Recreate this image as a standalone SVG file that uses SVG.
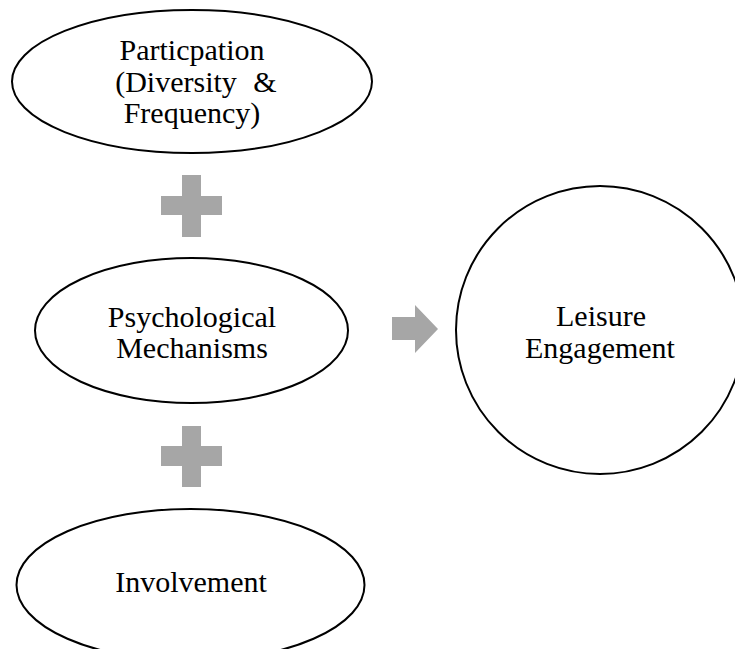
<svg xmlns="http://www.w3.org/2000/svg" width="735" height="649" viewBox="0 0 735 649">
<style>
.node{fill:#fff;stroke:#000;stroke-width:2}
.lbl{font-family:"Liberation Serif","Times New Roman",serif;font-size:30px;fill:#000;text-anchor:middle}
.op{fill:#a6a6a6}
</style>
<rect width="735" height="649" fill="#fff"/>
<g id="connectors">
<path class="op" d="M182,175H201V196H222V215H201V237H182V215H161V196H182Z"/>
<path class="op" d="M182,426H201V446H222V466H201V487H182V466H161V446H182Z"/>
<path class="op" d="M392,317H415V305L438,329L415,353V340H392Z"/>
</g>
<g id="participation">
<ellipse class="node" cx="192" cy="81.5" rx="180" ry="71.5"/>
<text class="lbl" x="192" y="60">Particpation</text>
<text class="lbl" x="176" y="92">(Diversity</text>
<text class="lbl" x="265" y="92">&amp;</text>
<text class="lbl" x="192" y="123">Frequency)</text>
</g>
<g id="psychological">
<ellipse class="node" cx="191.5" cy="330.5" rx="156.5" ry="72.5"/>
<text class="lbl" x="192" y="327">Psychological</text>
<text class="lbl" x="192" y="358">Mechanisms</text>
</g>
<g id="involvement">
<ellipse class="node" cx="190.5" cy="585" rx="174" ry="76"/>
<text class="lbl" x="191" y="592">Involvement</text>
</g>
<g id="leisure">
<circle class="node" cx="600" cy="330" r="144"/>
<text class="lbl" x="601" y="326">Leisure</text>
<text class="lbl" x="600" y="358">Engagement</text>
</g>
</svg>
